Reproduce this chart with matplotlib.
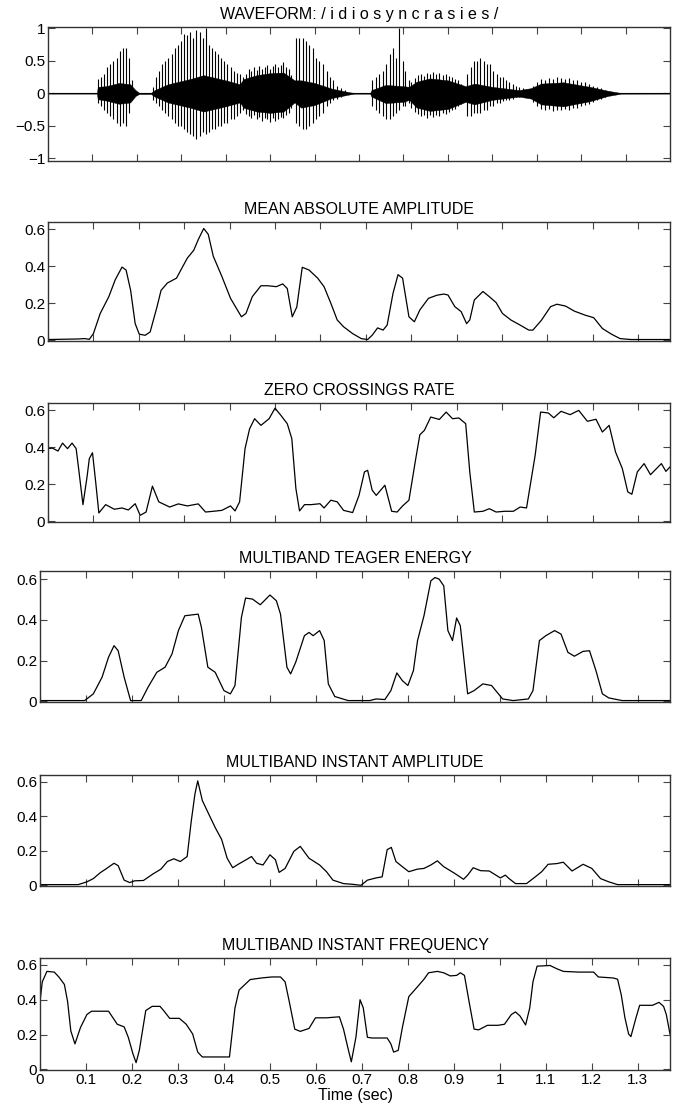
import numpy as np
import matplotlib
matplotlib.use("Agg")
import matplotlib.pyplot as plt

# ---- waveform: pitch pulses (time, positive peak, negative peak) ----
spike_t = [0.112, 0.119, 0.126, 0.133, 0.140, 0.147, 0.155, 0.162, 0.169, 0.176, 0.183, 0.190,
           0.236, 0.243, 0.250, 0.257, 0.264, 0.271, 0.278, 0.285, 0.292, 0.299, 0.306, 0.313,
           0.320, 0.327, 0.334, 0.341, 0.348, 0.355, 0.362, 0.369, 0.376, 0.383, 0.390, 0.397,
           0.404, 0.411, 0.418, 0.425, 0.432,
           0.559, 0.566, 0.573, 0.580, 0.588, 0.596, 0.604, 0.611, 0.619, 0.627, 0.634, 0.642,
           0.650, 0.659, 0.668,
           0.729, 0.739, 0.746, 0.754, 0.761, 0.769, 0.776, 0.783, 0.791, 0.798, 0.804, 0.812,
           0.944, 0.952, 0.959, 0.966, 0.973, 0.981, 0.988, 0.995, 1.002, 1.010, 1.017, 1.024,
           1.031, 1.038, 1.046, 1.053, 1.061, 1.069, 1.076]
spike_hi = [0.22, 0.25, 0.30, 0.40, 0.45, 0.50, 0.55, 0.65, 0.70, 0.70, 0.55, 0.20,
            0.10, 0.25, 0.35, 0.45, 0.50, 0.55, 0.60, 0.70, 0.75, 0.80, 0.92, 0.90,
            0.95, 0.85, 0.98, 0.95, 0.85, 1.00, 0.75, 0.70, 0.65, 0.60, 0.55, 0.50,
            0.45, 0.40, 0.35, 0.32, 0.30,
            0.85, 0.85, 0.85, 0.80, 0.75, 0.70, 0.55, 0.50, 0.45, 0.35, 0.25, 0.20,
            0.12, 0.08, 0.05,
            0.20, 0.25, 0.30, 0.35, 0.45, 0.60, 0.70, 0.55, 1.00, 0.50, 0.35, 0.20,
            0.30, 0.40, 0.50, 0.50, 0.55, 0.50, 0.45, 0.45, 0.35, 0.30, 0.25, 0.25,
            0.20, 0.18, 0.15, 0.12, 0.10, 0.08, 0.06]
spike_lo = [-0.15, -0.20, -0.25, -0.30, -0.35, -0.40, -0.45, -0.50, -0.45, -0.50, -0.30, -0.10,
            -0.10, -0.15, -0.20, -0.25, -0.30, -0.35, -0.40, -0.45, -0.50, -0.50, -0.55, -0.60,
            -0.62, -0.65, -0.70, -0.65, -0.60, -0.62, -0.60, -0.55, -0.55, -0.50, -0.50, -0.45,
            -0.45, -0.40, -0.40, -0.35, -0.30,
            -0.45, -0.50, -0.55, -0.55, -0.50, -0.45, -0.40, -0.35, -0.30, -0.20, -0.15, -0.10,
            -0.08, -0.05, -0.03,
            -0.20, -0.25, -0.30, -0.35, -0.40, -0.40, -0.35, -0.30, -0.25, -0.20, -0.20, -0.15,
            -0.35, -0.35, -0.30, -0.30, -0.30, -0.25, -0.25, -0.20, -0.20, -0.15, -0.15, -0.12,
            -0.10, -0.10, -0.08, -0.06, -0.05, -0.04, -0.03]

# small peaks on the edges of the noise-like stretches
noise_t = [0.440, 0.446, 0.452, 0.458, 0.464, 0.470, 0.476, 0.482, 0.488, 0.494, 0.500,
           0.506, 0.512, 0.518, 0.524, 0.530, 0.536, 0.542, 0.548,
           0.818, 0.825, 0.832, 0.839, 0.846, 0.853, 0.860, 0.867, 0.874, 0.881, 0.888,
           0.895, 0.902, 0.909, 0.916, 0.923, 0.930,
           1.092, 1.101, 1.110, 1.119, 1.128, 1.137, 1.146, 1.155, 1.164, 1.173, 1.182,
           1.191, 1.200, 1.209, 1.218, 1.227, 1.236, 1.245, 1.254, 1.263]
noise_hi = [0.25, 0.30, 0.38, 0.35, 0.40, 0.36, 0.42, 0.38, 0.40, 0.43, 0.38,
            0.42, 0.45, 0.40, 0.44, 0.48, 0.40, 0.38, 0.28,
            0.18, 0.24, 0.28, 0.30, 0.27, 0.32, 0.30, 0.33, 0.30, 0.31, 0.28,
            0.30, 0.27, 0.25, 0.22, 0.20, 0.15,
            0.12, 0.18, 0.22, 0.20, 0.24, 0.22, 0.25, 0.23, 0.22, 0.24, 0.20,
            0.21, 0.18, 0.17, 0.15, 0.12, 0.10, 0.08, 0.05, 0.03]
noise_lo = [-0.25, -0.32, -0.35, -0.38, -0.34, -0.40, -0.36, -0.42, -0.38, -0.40, -0.44,
            -0.38, -0.42, -0.40, -0.36, -0.38, -0.33, -0.30, -0.22,
            -0.22, -0.28, -0.32, -0.35, -0.33, -0.38, -0.34, -0.36, -0.33, -0.35, -0.30,
            -0.32, -0.28, -0.26, -0.24, -0.20, -0.16,
            -0.14, -0.20, -0.24, -0.26, -0.24, -0.27, -0.25, -0.26, -0.24, -0.25, -0.22,
            -0.22, -0.20, -0.18, -0.16, -0.13, -0.10, -0.08, -0.05, -0.03]

# dense part of the waveform: envelope knots
env_t = [0.000, 0.110, 0.112, 0.130, 0.160, 0.185, 0.197, 0.205, 0.232, 0.240, 0.270, 0.320,
         0.350, 0.400, 0.432, 0.440, 0.470, 0.500, 0.530, 0.555, 0.570, 0.600, 0.640, 0.676,
         0.690, 0.725, 0.728, 0.760, 0.800, 0.813, 0.830, 0.860, 0.900, 0.940, 0.960, 1.000,
         1.060, 1.087, 1.110, 1.160, 1.220, 1.260, 1.290, 1.400]
env_hi = [0.004, 0.004, 0.10, 0.11, 0.16, 0.14, 0.05, 0.01, 0.01, 0.05, 0.14, 0.22,
          0.28, 0.20, 0.14, 0.22, 0.28, 0.31, 0.32, 0.20, 0.20, 0.16, 0.07, 0.02,
          0.005, 0.005, 0.05, 0.13, 0.11, 0.10, 0.18, 0.23, 0.20, 0.11, 0.15, 0.10,
          0.05, 0.08, 0.15, 0.17, 0.10, 0.04, 0.005, 0.004]
env_lo = [-0.004, -0.004, -0.09, -0.11, -0.16, -0.14, -0.04, -0.01, -0.01, -0.05, -0.14, -0.22,
          -0.28, -0.20, -0.14, -0.22, -0.28, -0.30, -0.28, -0.14, -0.22, -0.18, -0.07, -0.02,
          -0.005, -0.005, -0.05, -0.15, -0.13, -0.10, -0.22, -0.27, -0.24, -0.13, -0.17, -0.10,
          -0.05, -0.08, -0.17, -0.20, -0.12, -0.04, -0.005, -0.004]

# ---- mean absolute amplitude ----
maa_t = [0.0, 0.067, 0.081, 0.091, 0.10, 0.115, 0.134, 0.148, 0.163, 0.172, 0.182, 0.192, 0.201,
         0.214, 0.225, 0.24, 0.249, 0.263, 0.283, 0.297, 0.307, 0.321, 0.331, 0.343, 0.353, 0.364,
         0.383, 0.402, 0.426, 0.436, 0.45, 0.469, 0.484, 0.503, 0.517, 0.527, 0.538, 0.548, 0.56,
         0.575, 0.594, 0.608, 0.623, 0.637, 0.651, 0.671, 0.69, 0.704, 0.714, 0.726, 0.738, 0.747,
         0.76, 0.771, 0.781, 0.795, 0.807, 0.819, 0.838, 0.857, 0.872, 0.881, 0.896, 0.91, 0.922,
         0.929, 0.939, 0.958, 0.972, 0.987, 1.001, 1.02, 1.04, 1.059, 1.068, 1.087, 1.107, 1.121,
         1.14, 1.159, 1.183, 1.202, 1.221, 1.241, 1.26, 1.284, 1.37]
maa_v = [0.004, 0.007, 0.009, 0.005, 0.036, 0.145, 0.236, 0.327, 0.396, 0.38, 0.27, 0.09, 0.033,
         0.027, 0.045, 0.18, 0.27, 0.31, 0.336, 0.40, 0.445, 0.487, 0.545, 0.605, 0.573, 0.455,
         0.345, 0.227, 0.127, 0.145, 0.236, 0.295, 0.295, 0.29, 0.305, 0.28, 0.127, 0.18, 0.395,
         0.38, 0.336, 0.29, 0.20, 0.11, 0.073, 0.036, 0.009, 0.004, 0.027, 0.067, 0.055, 0.082,
         0.255, 0.355, 0.336, 0.127, 0.10, 0.164, 0.227, 0.244, 0.25, 0.245, 0.182, 0.155, 0.09,
         0.11, 0.218, 0.264, 0.236, 0.204, 0.145, 0.109, 0.082, 0.055, 0.055, 0.109, 0.182, 0.195,
         0.185, 0.158, 0.136, 0.122, 0.064, 0.033, 0.009, 0.004, 0.004]

# ---- zero crossings rate ----
zcr_t = [0.0, 0.0096, 0.022, 0.032, 0.043, 0.053, 0.062, 0.067, 0.077, 0.086, 0.091, 0.098, 0.105,
         0.112, 0.127, 0.146, 0.163, 0.177, 0.192, 0.203, 0.216, 0.23, 0.244, 0.268, 0.287, 0.307,
         0.331, 0.347, 0.364, 0.383, 0.402, 0.412, 0.422, 0.434, 0.444, 0.455, 0.469, 0.487, 0.50,
         0.513, 0.527, 0.537, 0.546, 0.554, 0.565, 0.58, 0.599, 0.608, 0.623, 0.637, 0.651, 0.671,
         0.685, 0.697, 0.704, 0.714, 0.723, 0.742, 0.757, 0.769, 0.781, 0.795, 0.81, 0.819, 0.829,
         0.843, 0.862, 0.877, 0.891, 0.905, 0.92, 0.929, 0.939, 0.958, 0.972, 0.987, 1.006, 1.025,
         1.04, 1.054, 1.073, 1.085, 1.102, 1.114, 1.13, 1.15, 1.169, 1.188, 1.207, 1.221, 1.236,
         1.25, 1.265, 1.277, 1.286, 1.298, 1.313, 1.327, 1.351, 1.361, 1.37]
zcr_v = [0.393, 0.396, 0.38, 0.423, 0.393, 0.423, 0.393, 0.294, 0.09, 0.24, 0.339, 0.371, 0.213,
         0.045, 0.09, 0.065, 0.072, 0.061, 0.095, 0.032, 0.05, 0.19, 0.105, 0.077, 0.094, 0.083,
         0.094, 0.05, 0.054, 0.059, 0.083, 0.056, 0.105, 0.393, 0.50, 0.555, 0.519, 0.555, 0.612,
         0.573, 0.528, 0.447, 0.177, 0.056, 0.09, 0.09, 0.095, 0.072, 0.114, 0.105, 0.059, 0.047,
         0.14, 0.267, 0.276, 0.168, 0.14, 0.195, 0.054, 0.05, 0.083, 0.114, 0.339, 0.468, 0.492,
         0.564, 0.551, 0.591, 0.555, 0.559, 0.528, 0.267, 0.05, 0.054, 0.068, 0.05, 0.054, 0.054,
         0.077, 0.072, 0.357, 0.591, 0.586, 0.56, 0.595, 0.577, 0.60, 0.541, 0.552, 0.483, 0.519,
         0.375, 0.285, 0.159, 0.146, 0.267, 0.312, 0.252, 0.312, 0.27, 0.294]

# ---- multiband Teager energy ----
mte_t = [0.0, 0.097, 0.116, 0.135, 0.149, 0.161, 0.17, 0.183, 0.197, 0.22, 0.235, 0.254, 0.272,
         0.287, 0.301, 0.315, 0.344, 0.351, 0.365, 0.381, 0.40, 0.414, 0.424, 0.438, 0.447, 0.462,
         0.479, 0.50, 0.514, 0.523, 0.537, 0.545, 0.556, 0.575, 0.585, 0.594, 0.608, 0.618, 0.627,
         0.641, 0.67, 0.717, 0.731, 0.75, 0.763, 0.776, 0.788, 0.80, 0.812, 0.821, 0.835, 0.85,
         0.859, 0.868, 0.878, 0.887, 0.897, 0.906, 0.914, 0.93, 0.944, 0.963, 0.982, 0.991, 1.006,
         1.029, 1.062, 1.072, 1.086, 1.10, 1.119, 1.133, 1.148, 1.162, 1.181, 1.195, 1.209, 1.223,
         1.237, 1.266, 1.37]
mte_v = [0.003, 0.003, 0.036, 0.118, 0.216, 0.273, 0.248, 0.118, 0.003, 0.003, 0.069, 0.142, 0.167,
         0.232, 0.347, 0.42, 0.428, 0.363, 0.167, 0.142, 0.052, 0.036, 0.077, 0.412, 0.507, 0.502,
         0.474, 0.522, 0.494, 0.428, 0.167, 0.134, 0.191, 0.322, 0.338, 0.322, 0.347, 0.298, 0.085,
         0.023, 0.003, 0.003, 0.011, 0.008, 0.052, 0.139, 0.101, 0.077, 0.15, 0.298, 0.42, 0.592,
         0.608, 0.60, 0.567, 0.347, 0.298, 0.409, 0.371, 0.036, 0.052, 0.085, 0.077, 0.052, 0.011,
         0.003, 0.011, 0.052, 0.298, 0.322, 0.347, 0.33, 0.24, 0.221, 0.245, 0.248, 0.15, 0.036,
         0.016, 0.003, 0.003]

# ---- multiband instant amplitude ----
mia_t = [0.0, 0.083, 0.102, 0.116, 0.131, 0.145, 0.161, 0.17, 0.183, 0.195, 0.206, 0.225, 0.244,
         0.263, 0.277, 0.291, 0.305, 0.32, 0.329, 0.337, 0.343, 0.353, 0.367, 0.381, 0.395, 0.407,
         0.419, 0.431, 0.448, 0.46, 0.471, 0.485, 0.50, 0.512, 0.52, 0.533, 0.552, 0.566, 0.585,
         0.608, 0.623, 0.637, 0.66, 0.679, 0.698, 0.712, 0.731, 0.744, 0.755, 0.764, 0.774, 0.788,
         0.802, 0.821, 0.835, 0.85, 0.864, 0.878, 0.902, 0.921, 0.93, 0.942, 0.958, 0.977, 1.001,
         1.012, 1.02, 1.034, 1.058, 1.077, 1.091, 1.105, 1.124, 1.138, 1.157, 1.181, 1.20, 1.219,
         1.237, 1.256, 1.37]
mia_v = [0.004, 0.004, 0.02, 0.039, 0.073, 0.098, 0.128, 0.114, 0.03, 0.016, 0.026, 0.028, 0.063,
         0.094, 0.138, 0.154, 0.138, 0.167, 0.374, 0.531, 0.606, 0.492, 0.413, 0.335, 0.266, 0.157,
         0.102, 0.122, 0.148, 0.167, 0.128, 0.118, 0.177, 0.148, 0.075, 0.098, 0.197, 0.226, 0.157,
         0.118, 0.079, 0.03, 0.01, 0.006, 0.0, 0.03, 0.043, 0.049, 0.207, 0.22, 0.138, 0.108,
         0.079, 0.094, 0.098, 0.118, 0.142, 0.108, 0.069, 0.035, 0.059, 0.102, 0.085, 0.083, 0.043,
         0.059, 0.039, 0.01, 0.01, 0.049, 0.079, 0.122, 0.126, 0.134, 0.083, 0.122, 0.098, 0.039,
         0.02, 0.004, 0.004]

# ---- multiband instant frequency ----
mif_t = [0.0, 0.005, 0.015, 0.031, 0.041, 0.053, 0.06, 0.067, 0.076, 0.088, 0.102, 0.112, 0.149,
         0.161, 0.168, 0.183, 0.192, 0.202, 0.209, 0.216, 0.23, 0.244, 0.261, 0.27, 0.282, 0.303,
         0.318, 0.332, 0.343, 0.353, 0.412, 0.424, 0.433, 0.457, 0.481, 0.504, 0.523, 0.533, 0.542,
         0.554, 0.566, 0.585, 0.599, 0.623, 0.651, 0.66, 0.67, 0.677, 0.687, 0.696, 0.703, 0.712,
         0.722, 0.755, 0.763, 0.769, 0.779, 0.788, 0.802, 0.821, 0.835, 0.845, 0.864, 0.878, 0.892,
         0.906, 0.914, 0.923, 0.933, 0.944, 0.954, 0.973, 0.996, 1.01, 1.025, 1.034, 1.044, 1.056,
         1.065, 1.072, 1.081, 1.109, 1.124, 1.138, 1.171, 1.204, 1.214, 1.247, 1.256, 1.264, 1.272,
         1.28, 1.285, 1.296, 1.304, 1.332, 1.346, 1.356, 1.362, 1.37]
mif_v = [0.39, 0.503, 0.563, 0.559, 0.531, 0.488, 0.39, 0.221, 0.146, 0.24, 0.315, 0.334, 0.334,
         0.287, 0.259, 0.244, 0.184, 0.09, 0.038, 0.109, 0.338, 0.362, 0.362, 0.334, 0.293, 0.293,
         0.259, 0.203, 0.099, 0.071, 0.071, 0.353, 0.456, 0.516, 0.525, 0.531, 0.531, 0.503, 0.39,
         0.231, 0.218, 0.235, 0.296, 0.296, 0.302, 0.231, 0.118, 0.043, 0.184, 0.40, 0.353, 0.184,
         0.18, 0.18, 0.146, 0.099, 0.109, 0.24, 0.418, 0.475, 0.518, 0.555, 0.563, 0.555, 0.537,
         0.54, 0.555, 0.54, 0.39, 0.231, 0.227, 0.253, 0.253, 0.259, 0.315, 0.33, 0.306, 0.255,
         0.353, 0.503, 0.593, 0.597, 0.578, 0.563, 0.559, 0.559, 0.531, 0.525, 0.518, 0.428, 0.296,
         0.203, 0.188, 0.296, 0.368, 0.368, 0.385, 0.362, 0.315, 0.203]

titles = ["WAVEFORM: / i d i o s y n c r a s i e s /",
          "MEAN ABSOLUTE AMPLITUDE",
          "ZERO CROSSINGS RATE",
          "MULTIBAND TEAGER ENERGY",
          "MULTIBAND INSTANT AMPLITUDE",
          "MULTIBAND INSTANT FREQUENCY"]
feature_t = [maa_t, zcr_t, mte_t, mia_t, mif_t]
feature_v = [maa_v, zcr_v, mte_v, mia_v, mif_v]

plt.rcParams['font.family'] = ['Liberation Sans', 'DejaVu Sans']

W, H = 682, 1110
fig = plt.figure(figsize=(W / 100, H / 100), dpi=100)

# axes boxes in pixels: left, right, top, bottom
boxes = [(48, 670, 27, 161),
         (48, 670, 222, 341),
         (48, 670, 403, 522),
         (40, 670, 571, 702),
         (40, 670, 775, 886),
         (40, 670, 958, 1070)]

axes = []
for (l, r, t, b) in boxes:
    ax = fig.add_axes([l / W, 1 - b / H, (r - l) / W, (b - t) / H])
    for s in ax.spines.values():
        s.set_color('#333333')
        s.set_linewidth(1.0)
    ax.tick_params(direction='in', top=True, right=True, length=5, width=0.8,
                   color='#444444', labelsize=11, pad=2)
    axes.append(ax)

# --- waveform ---
ax = axes[0]
ax.plot([0, 1.4], [0, 0], color='black', lw=0.8)
ax.fill_between(env_t, env_lo, env_hi, color='black', lw=0.3)
ax.vlines(noise_t, noise_lo, noise_hi, color='black', lw=0.8)
ax.vlines(spike_t, spike_lo, spike_hi, color='black', lw=0.8)
ax.set_xlim(0, 1.4)
ax.set_ylim(-1.04, 1.02)
ax.set_xticks(np.arange(1, 14) / 10)
ax.set_xticklabels([])
ax.set_yticks([-1, -0.5, 0, 0.5, 1])
ax.set_yticklabels(['\u22121', '\u22120.5', '0', '0.5', '1'])
ax.set_title(titles[0], fontsize=11.5, pad=6)

# --- feature panels ---
xt = np.arange(0, 14) / 10
for i, ax in enumerate(axes[1:]):
    ax.plot(feature_t[i], feature_v[i], color='black', lw=0.9)
    ax.set_xlim(0, 1.37)
    ax.set_ylim(-0.004, 0.64)
    ax.set_yticks([0, 0.2, 0.4, 0.6])
    ax.set_yticklabels(['0', '0.2', '0.4', '0.6'])
    ax.set_xticks(xt)
    ax.set_title(titles[i + 1], fontsize=11.5, pad=6)
    if i < 4:
        ax.set_xticklabels([])
    else:
        ax.set_xticklabels(['0', '0.1', '0.2', '0.3', '0.4', '0.5', '0.6', '0.7', '0.8',
                            '0.9', '1', '1.1', '1.2', '1.3'])
        ax.set_xlabel('Time (sec)', fontsize=11.5, labelpad=1)

fig.savefig('out.png', dpi=100, facecolor='white')
